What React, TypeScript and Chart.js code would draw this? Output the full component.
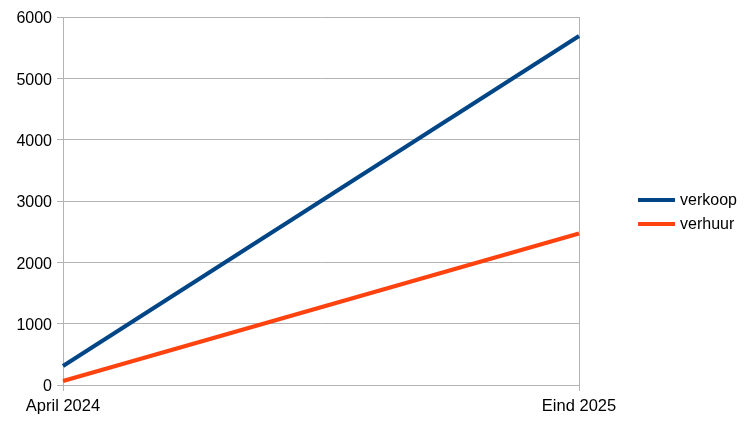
import React, { useEffect, useRef } from "react";
import { Chart, registerables } from "chart.js";

Chart.register(...registerables);

const categories = ["April 2024", "Eind 2025"];
const verkoop = [310, 5690];
const verhuur = [65, 2470];
const seriesNames = ["verkoop", "verhuur"];
const seriesColors = ["#004586", "#ff420e"];
const yTicks = [0, 1000, 2000, 3000, 4000, 5000, 6000];

const FONT = "'Liberation Sans', Arial, sans-serif";

const legendPlugin = {
  id: "customLegend",
  afterDraw(chart: any) {
    const ctx = chart.ctx;
    ctx.save();
    chart.data.datasets.forEach((ds: any, i: number) => {
      const y = 200 + i * 24;
      ctx.strokeStyle = ds.borderColor;
      ctx.lineWidth = 4;
      ctx.beginPath();
      ctx.moveTo(638, y);
      ctx.lineTo(675, y);
      ctx.stroke();
      ctx.fillStyle = "#000";
      ctx.font = `16px ${FONT}`;
      ctx.textBaseline = "middle";
      ctx.textAlign = "left";
      ctx.fillText(ds.label, 680, y + 1);
    });
    ctx.restore();
  },
};

export default function App() {
  const ref = useRef<HTMLCanvasElement | null>(null);
  useEffect(() => {
    if (!ref.current) return;
    const chart = new Chart(ref.current, {
      type: "line",
      data: {
        labels: categories,
        datasets: [
          {
            label: seriesNames[0],
            data: verkoop,
            borderColor: seriesColors[0],
            backgroundColor: seriesColors[0],
            borderWidth: 4,
            pointRadius: 0,
            tension: 0,
          },
          {
            label: seriesNames[1],
            data: verhuur,
            borderColor: seriesColors[1],
            backgroundColor: seriesColors[1],
            borderWidth: 4,
            pointRadius: 0,
            tension: 0,
          },
        ],
      },
      options: {
        animation: false,
        responsive: false,
        maintainAspectRatio: false,
        layout: { padding: { top: 17, right: 177, left: 0, bottom: 0 } },
        plugins: {
          legend: { display: false },
          tooltip: { enabled: false },
        },
        scales: {
          x: {
            offset: false,
            grid: { color: "#b3b3b3", lineWidth: 1, tickLength: 6, drawTicks: true },
            border: { color: "#b3b3b3" },
            ticks: {
              color: "#000",
              font: { family: FONT, size: 16.5 },
              padding: 6,
              maxRotation: 0,
              autoSkip: false,
            },
            afterFit(scale: any) {
              scale.height = 40;
            },
          },
          y: {
            min: 0,
            max: 6000,
            afterBuildTicks(scale: any) {
              scale.ticks = yTicks.map((v) => ({ value: v }));
            },
            grid: { color: "#b3b3b3", lineWidth: 1, tickLength: 6, drawTicks: true },
            border: { color: "#b3b3b3" },
            ticks: {
              color: "#000",
              font: { family: FONT, size: 16 },
              padding: 5,
              labelOffset: 2,
              callback: (v: any) => String(v),
            },
            afterFit(scale: any) {
              scale.width = 63;
            },
          },
        },
      },
      plugins: [legendPlugin],
    });
    return () => chart.destroy();
  }, []);
  return (
    <div style={{ position: "absolute", left: 0, top: 0, width: 756, height: 425 }}>
      <canvas ref={ref} width={756} height={425} style={{ width: 756, height: 425 }} />
    </div>
  );
}
